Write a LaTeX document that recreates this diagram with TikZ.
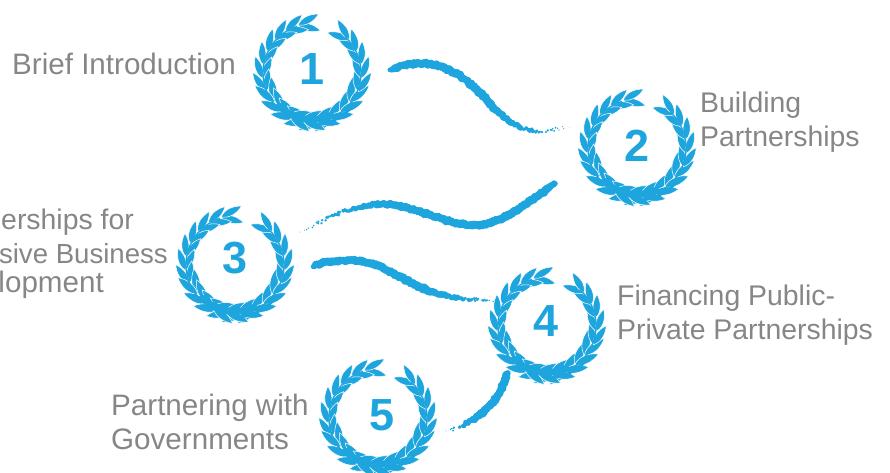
\documentclass[tikz,border=0pt]{standalone}
\usepackage{fontspec}
\setmainfont{Liberation Sans}
\usetikzlibrary{decorations.markings}
\definecolor{wreathblue}{HTML}{1FA5DD}
\definecolor{labelgray}{HTML}{868686}
\newcommand{\oneleaf}[4]{% angle, rotation, radius, scale
  \begin{scope}[shift={(#1:#3)},rotate=#2,scale=#4]
    \fill[wreathblue,draw=white,line width=.5pt] (0,0) .. controls (6,5) and (15,4.6) .. (23,0) .. controls (15,-4.6) and (6,-5) .. (0,0) -- cycle;
  \end{scope}}
\pgfmathsetseed{4242}
\tikzset{
  x=1pt,y=1pt,
  label/.style={font=\fontsize{28.4}{34}\selectfont,text=labelgray,inner sep=0pt,align=left},
  labelwide/.style={font=\fontsize{29.6}{34}\selectfont,text=labelgray,inner sep=0pt,align=left},
  numeral/.style={font=\fontsize{45}{45}\selectfont\bfseries,text=wreathblue,inner sep=0pt},
  wreath/.pic={
    \foreach \a in {106,122,...,300}{
      \pgfmathsetmacro{\rr}{\a>205 ? 47.5 : 50}
      \pgfmathsetmacro{\sc}{\a>205 ? 1.12 : 1}
      \oneleaf{\a}{\a-90-30}{\rr}{\sc}
      \oneleaf{\a}{\a-90+12}{\rr}{\sc}
    }
    \foreach \a in {-118,-102,...,42}{
      \pgfmathsetmacro{\rr}{\a<-25 ? 47.5 : 50}
      \pgfmathsetmacro{\sc}{\a<-25 ? 1.12 : 1}
      \oneleaf{\a}{\a+90+30}{\rr}{\sc}
      \oneleaf{\a}{\a+90-12}{\rr}{\sc}
    }
    \draw[wreathblue,line width=1.4pt] (-118:49) arc[start angle=-118,end angle=48,radius=49];
    \draw[wreathblue,line width=1.4pt] (-60:49) arc[start angle=-60,end angle=-252,radius=49];
    \draw[wreathblue,line width=6pt,line cap=round] (-135:46) arc[start angle=-135,end angle=-65,radius=46];
    \draw[wreathblue,line width=3pt,line cap=round] (-85:52) arc[start angle=-85,end angle=-35,radius=52];
  },
  brush/.style={
    decorate,
    decoration={markings,
      mark=between positions 0 and 1 step 1pt with {
        \pgfmathsetmacro{\brushT}{\pgfkeysvalueof{/pgf/decoration/mark info/sequence number}/#1}
        \pgfmathsetmacro{\fadeout}{max(0,min(1,(1-\brushT)/0.42))}
        \pgfmathsetmacro{\fadein}{min(1,0.62+\brushT*9)}
        \pgfmathsetmacro{\rad}{(0.25+3.6*\fadeout*\fadein)*(0.85+0.3*rnd)}
        \pgfmathsetmacro{\off}{(rnd-0.5)*(1.8+1.8*(1-\fadeout))}
        \pgfmathsetmacro{\keep}{rnd<(0.30+0.9*\fadeout) ? 1 : 0}
        \ifdim\keep pt>0.5pt
          \fill[wreathblue] (0pt,\off pt) circle[radius=\rad pt];
        \fi
      }
    }
  }
}
\begin{document}
\begin{tikzpicture}
\clip (0,0) rectangle (890,-473);
\pic at (312,-73) {wreath};
\pic at (637,-148) {wreath};
\pic at (235,-265) {wreath};
\pic at (547,-326) {wreath};
\pic at (378,-418) {wreath};
\node[numeral] (n1) at (312,-69) {1};
\node[numeral] (n2) at (637,-146) {2};
\node[numeral] (n3) at (235,-258) {3};
\node[numeral] (n4) at (546,-321) {4};
\node[numeral] (n5) at (382,-415) {5};
\node[labelwide,anchor=west] (t1) at (12,-64) {Brief Introduction};
\node[label,anchor=west] (t2) at (700,-122) {Building\\Partnerships};
\node[label,anchor=east] (t3a) at (134,-222) {erships for};
\node[label,anchor=east,font=\fontsize{27.6}{34}\selectfont] (t3b) at (168,-254) {sive Business};
\node[labelwide,anchor=east] (t3c) at (104,-285) {lopment};
\node[label,anchor=west] (t4) at (617,-315) {Financing Public-\\Private Partnerships};
\node[labelwide,anchor=west] (t5) at (111,-422) {Partnering with\\Governments};
\coordinate (a1) at (390,-70);
\coordinate (b1) at (570,-127);
\coordinate (a2) at (555,-183);
\coordinate (b2) at (300,-234);
\coordinate (a3) at (313,-266);
\coordinate (b3) at (500,-300);
\coordinate (a4) at (507,-373);
\coordinate (b4) at (444,-432);
\path[brush=205] (a1) .. controls (405,-63) and (420,-62) .. (435,-65) .. controls (455,-70) and (470,-82) .. (485,-98) .. controls (497,-112) and (510,-125) .. (530,-130) .. controls (545,-133) and (558,-128) .. (b1);
\path[brush=285] (a2) .. controls (540,-195) and (525,-205) .. (515,-211) .. controls (500,-222) and (480,-227) .. (465,-225) .. controls (440,-220) and (420,-210) .. (395,-205) .. controls (365,-201) and (335,-212) .. (b2);
\path[brush=200] (a3) .. controls (330,-260) and (345,-260) .. (360,-261) .. controls (385,-265) and (405,-282) .. (430,-291) .. controls (450,-298) and (475,-301) .. (b3);
\path[brush=90] (a4) .. controls (503,-390) and (495,-402) .. (485,-410) .. controls (475,-420) and (460,-428) .. (b4);
\end{tikzpicture}
\end{document}
